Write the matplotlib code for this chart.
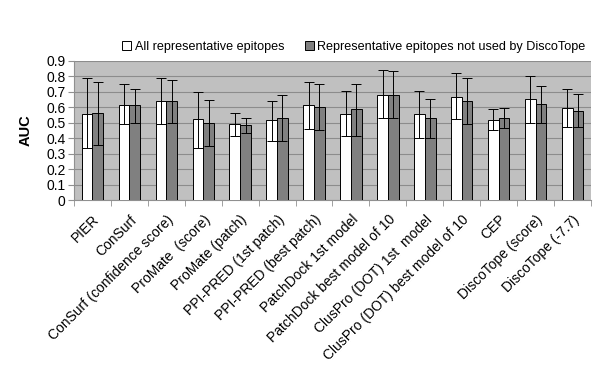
import numpy as np
import matplotlib
matplotlib.use("Agg")
import matplotlib.pyplot as plt
from matplotlib.ticker import FixedLocator

plt.rcParams["font.family"] = ["Liberation Sans", "DejaVu Sans"]

# ── data ─────────────────────────────────────────────
methods = [
    "PIER", "ConSurf", "ConSurf (confidence score)", "ProMate  (score)",
    "ProMate (patch)", "PPI-PRED (1st patch)", "PPI-PRED (best patch)",
    "PatchDock 1st model", "PatchDock best model of 10",
    "ClusPro (DOT) 1st  model", "ClusPro (DOT) best model of 10", "CEP",
    "DiscoTope (score)", "DiscoTope (-7.7)",
]
all_auc = [0.556, 0.616, 0.640, 0.522, 0.489, 0.517, 0.612, 0.558, 0.683,
           0.554, 0.670, 0.517, 0.651, 0.597]
all_hi  = [0.787, 0.748, 0.787, 0.700, 0.565, 0.644, 0.767, 0.703, 0.843,
           0.703, 0.823, 0.586, 0.806, 0.716]
all_lo  = [0.338, 0.489, 0.489, 0.338, 0.414, 0.384, 0.457, 0.412, 0.532,
           0.403, 0.522, 0.453, 0.496, 0.470]
nd_auc  = [0.565, 0.612, 0.640, 0.498, 0.483, 0.534, 0.599, 0.586, 0.683,
           0.534, 0.640, 0.528, 0.619, 0.575]
nd_hi   = [0.767, 0.716, 0.774, 0.647, 0.532, 0.683, 0.748, 0.754, 0.836,
           0.657, 0.787, 0.597, 0.741, 0.685]
nd_lo   = [0.356, 0.500, 0.500, 0.347, 0.435, 0.379, 0.453, 0.412, 0.532,
           0.401, 0.489, 0.463, 0.496, 0.470]
y_ticks = [0, 0.1, 0.2, 0.3, 0.4, 0.5, 0.6, 0.7, 0.8, 0.9]

# ── figure ───────────────────────────────────────────
fig = plt.figure(figsize=(6.0, 3.82), dpi=100)
ax = fig.add_axes([74 / 600, 1 - 200 / 382, 517 / 600, 139 / 382])
ax.set_facecolor("#c0c0c0")

x = np.arange(len(methods))
w = 0.29
a = np.array(all_auc); n = np.array(nd_auc)
err_a = [a - np.array(all_lo), np.array(all_hi) - a]
err_n = [n - np.array(nd_lo), np.array(nd_hi) - n]

ax.bar(x - w / 2, a, w, color="white", edgecolor="black", linewidth=0.7,
       label="All representative epitopes", zorder=3)
ax.bar(x + w / 2, n, w, color="#808080", edgecolor="black", linewidth=0.7,
       label="Representative epitopes not used by DiscoTope", zorder=3)
ax.errorbar(x - w / 2, a, yerr=err_a, fmt="none", ecolor="black",
            elinewidth=0.7, capsize=3.5, capthick=0.7, zorder=4)
ax.errorbar(x + w / 2, n, yerr=err_n, fmt="none", ecolor="black",
            elinewidth=0.7, capsize=3.5, capthick=0.7, zorder=4)

ax.set_xlim(-0.5, len(methods) - 0.5)
ax.set_ylim(0, 0.9)
ax.set_yticks(y_ticks)
ax.set_yticklabels([f"{v:g}" for v in y_ticks], fontsize=10)
ax.grid(axis="y", color="#8c8c8c", linewidth=0.8, zorder=0)
ax.set_axisbelow(True)

ax.set_xticks(x)
ax.set_xticklabels(methods, rotation=45, ha="right", rotation_mode="anchor",
                   fontsize=10)
ax.tick_params(axis="x", which="major", length=0, pad=9)
ax.xaxis.set_minor_locator(FixedLocator(np.arange(-0.5, len(methods), 1.0)))
ax.tick_params(axis="x", which="minor", length=4, color="#909090")
ax.tick_params(axis="y", length=4, color="#909090", pad=2)

for s in ["top", "right"]:
    ax.spines[s].set_visible(False)
for s in ["left", "bottom"]:
    ax.spines[s].set_color("#909090")

ax.set_ylabel("AUC", fontsize=10.5, fontweight="bold", labelpad=10)

fig.legend(loc="center", bbox_to_anchor=(354 / 600, 1 - 47 / 382), ncol=2,
           frameon=False, fontsize=9.1, handlelength=0.7, handleheight=0.7,
           handletextpad=0.3, columnspacing=1.6)

fig.savefig("out.png", dpi=100)
